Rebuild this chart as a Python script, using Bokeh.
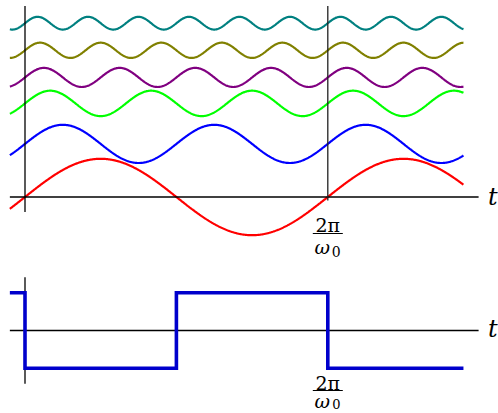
import numpy as np
from bokeh.plotting import figure
from bokeh.layouts import column
from bokeh.models import Range1d
from bokeh.core.properties import value
from bokeh.embed import file_html
from bokeh.resources import INLINE

# ---- data ----
harmonics = [1, 2, 3, 4, 5, 6]
amplitudes = [1.0, 0.5, 0.333, 0.25, 0.2, 0.167]
offsets = [0.0, 1.39, 2.45, 3.13, 3.84, 4.55]
colors = ["#ff0000", "#0000ff", "#00ff00", "#800080", "#808000", "#008080"]
t_start, t_end = -0.05, 1.448          # time in periods (2pi/w0)
sq_t = [-0.05, 0.0, 0.0, 0.5, 0.5, 1.0, 1.0, 1.448]
sq_v = [1, 1, -1, -1, 1, 1, -1, -1]
tick_label_top = "2π"
tick_label_bot = "ω"
tick_sub = "0"
axis_label = "t"

W = 498
PX_PER_T = 302.8
X0_PX = 24.5           # x pixel of t=0
x_range = (-X0_PX / PX_PER_T, (W - X0_PX) / PX_PER_T)

SERIF = value("DejaVu Serif")


def make_fig(h, y0, y1):
    p = figure(width=W, height=h, output_backend="svg", toolbar_location=None,
               x_range=Range1d(*x_range), y_range=Range1d(y0, y1),
               x_axis_type=None, y_axis_type=None, min_border=0,
               outline_line_color=None, border_fill_color="white")
    p.grid.visible = False
    return p


def fraction_label(p, x, y_bar, px_unit, fs=19, sub_fs=14, up=8.5, down=13.5, sub_drop=4):
    p.text(x=[x], y=[y_bar + up / px_unit], text=[tick_label_top], text_font=SERIF,
           text_font_size=f"{fs}px", text_align="center", text_baseline="middle", text_color="black")
    w = 30 / PX_PER_T
    p.segment(x0=[x - w / 2], x1=[x + w / 2], y0=[y_bar], y1=[y_bar], line_color="black", line_width=1.2)
    p.text(x=[x - 5.5 / PX_PER_T], y=[y_bar - down / px_unit], text=[tick_label_bot], text_font=SERIF,
           text_font_style="italic", text_font_size=f"{fs}px", text_align="center",
           text_baseline="middle", text_color="black")
    p.text(x=[x + 8.5 / PX_PER_T], y=[y_bar - (down + sub_drop) / px_unit], text=[tick_sub], text_font=SERIF,
           text_font_size=f"{sub_fs}px", text_align="center", text_baseline="middle", text_color="black")


AXW = 1.3
# ---- top panel (page y 0..270) ----
U1 = 38.2
AX1 = 196.5
top = make_fig(270, (AX1 - 270) / U1, AX1 / U1)
tt = np.linspace(t_start, t_end, 800)
for n, a, off, c in zip(harmonics, amplitudes, offsets, colors):
    top.line(tt, off + a * np.sin(2 * np.pi * n * tt), line_color=c, line_width=2.2)
# axes
top.segment(x0=[-0.05], x1=[1.498], y0=[0], y1=[0], line_color="black", line_width=AXW)
top.segment(x0=[0], x1=[0], y0=[-0.39], y1=[5.0], line_color="black", line_width=AXW)
top.segment(x0=[1], x1=[1], y0=[-0.09], y1=[5.0], line_color="#222222", line_width=AXW)
top.text(x=[1.545], y=[0], text=[axis_label], text_font=SERIF, text_font_style="italic",
         text_font_size="24px", text_align="center", text_baseline="middle", text_color="black")
fraction_label(top, 1.0, (AX1 - 233) / U1, U1)

# ---- bottom panel (page y 270..413) ----
U2 = 37.7
AX2 = 330 - 270
bot = make_fig(143, (AX2 - 143) / U2, AX2 / U2)
bot.segment(x0=[-0.05], x1=[1.498], y0=[0], y1=[0], line_color="black", line_width=AXW)
bot.segment(x0=[0], x1=[0], y0=[-1.41], y1=[1.41], line_color="black", line_width=AXW)
bot.line(sq_t, sq_v, line_color="#0000cc", line_width=3.6, line_join="miter")
bot.text(x=[1.545], y=[0.05], text=[axis_label], text_font=SERIF, text_font_style="italic",
         text_font_size="24px", text_align="center", text_baseline="middle", text_color="black")
fraction_label(bot, 1.0, (AX2 - (390 - 270)) / U2, U2, up=7.5, down=10.5, sub_drop=3, sub_fs=13)

layout = column(top, bot, spacing=0)
open("out.html", "w").write(file_html(layout, INLINE))
